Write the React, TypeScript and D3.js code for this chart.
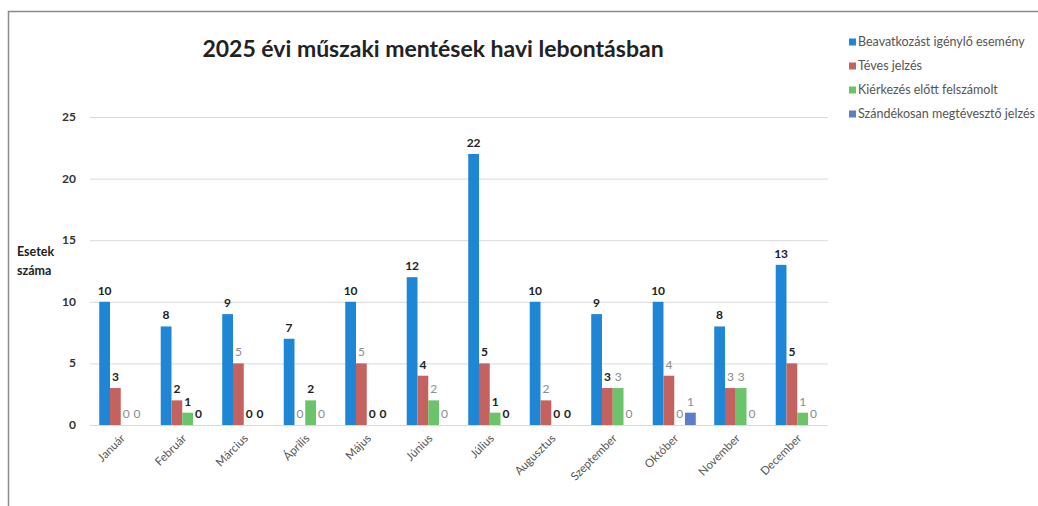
import { useEffect, useRef } from 'react';
import * as d3 from 'd3';

const months = [
  'Január', 'Február', 'Március', 'Április', 'Május', 'Június',
  'Július', 'Augusztus', 'Szeptember', 'Október', 'November', 'December',
];
const seriesNames = [
  'Beavatkozást igénylő esemény',
  'Téves jelzés',
  'Kiérkezés előtt felszámolt',
  'Szándékosan megtévesztő jelzés',
];
const beavatkozas = [10, 8, 9, 7, 10, 12, 22, 10, 9, 10, 8, 13];
const teves = [3, 2, 5, 0, 5, 4, 5, 2, 3, 4, 3, 5];
const kierkezes = [0, 1, 0, 2, 0, 2, 1, 0, 3, 0, 3, 1];
const szandekos = [0, 0, 0, 0, 0, 0, 0, 0, 0, 1, 0, 0];
const yTicks = [0, 5, 10, 15, 20, 25];
// which value labels came out dark in the scan (1) vs faded grey (0)
const darkLabels = [
  [1, 1, 1, 1, 1, 1, 1, 1, 1, 1, 1, 1],
  [1, 1, 0, 0, 0, 1, 1, 0, 1, 0, 0, 1],
  [0, 1, 1, 1, 1, 0, 1, 1, 0, 0, 0, 0],
  [0, 1, 1, 0, 1, 0, 1, 1, 0, 0, 0, 0],
];

const colors = ['#1f86d6', '#c4625f', '#6cc46a', '#5c7ccc'];
const font = 'Lato, "Open Sans", sans-serif';

export default function App() {
  const ref = useRef<SVGSVGElement>(null);

  useEffect(() => {
    if (!ref.current) return;
    const width = 1038;
    const height = 506;
    const svg = d3.select(ref.current);
    svg.selectAll('*').remove();
    const values = [beavatkozas, teves, kierkezes, szandekos];

    // scanned page frame
    svg.append('path')
      .attr('d', `M8.5,${height} V11.5 H${width}`)
      .attr('fill', 'none')
      .attr('stroke', '#8a8a8a')
      .attr('stroke-width', 1.5);

    const x = d3.scaleBand().domain(months).range([90, 828]).paddingInner(0.3).paddingOuter(0.15);
    const xs = d3.scaleBand().domain(seriesNames).range([0, x.bandwidth()]);
    const y = d3.scaleLinear().domain([0, 25]).range([425, 117]);

    const grid = svg.append('g');
    yTicks.forEach((t) => {
      grid.append('line')
        .attr('x1', 90).attr('x2', 828)
        .attr('y1', y(t) + 0.5).attr('y2', y(t) + 0.5)
        .attr('stroke', '#d9d9d9');
      grid.append('text')
        .attr('x', 76).attr('y', y(t) + 4)
        .attr('text-anchor', 'end')
        .attr('font-family', font).attr('font-weight', 700).attr('font-size', 12)
        .attr('fill', '#333')
        .text(t);
    });

    const bars = svg.append('g');
    values.forEach((vals, s) => {
      vals.forEach((v, i) => {
        const bx = (x(months[i]) ?? 0) + (xs(seriesNames[s]) ?? 0);
        if (v > 0) {
          bars.append('rect')
            .attr('x', bx).attr('y', y(v))
            .attr('width', xs.bandwidth()).attr('height', y(0) - y(v))
            .attr('fill', colors[s]);
        }
        const dark = darkLabels[s][i] === 1;
        bars.append('text')
          .attr('x', bx + xs.bandwidth() / 2).attr('y', y(v) - 7)
          .attr('text-anchor', 'middle')
          .attr('font-family', font)
          .attr('font-weight', dark ? 700 : 400)
          .attr('font-size', 12)
          .attr('fill', dark ? '#222' : '#8c8c8c')
          .text(v);
      });
    });

    const xl = svg.append('g');
    months.forEach((m) => {
      const cx = (x(m) ?? 0) + x.bandwidth() / 2 + 5;
      xl.append('text')
        .attr('transform', `translate(${cx},439) rotate(-45)`)
        .attr('text-anchor', 'end')
        .attr('font-family', font).attr('font-size', 11.5)
        .attr('fill', '#555')
        .text(m);
    });

    svg.append('text')
      .attr('x', 433).attr('y', 57)
      .attr('text-anchor', 'middle')
      .attr('font-family', font).attr('font-weight', 700).attr('font-size', 23)
      .attr('fill', '#222')
      .text('2025 évi műszaki mentések havi lebontásban');

    const yl = svg.append('text')
      .attr('font-family', font).attr('font-weight', 700).attr('font-size', 12.5)
      .attr('fill', '#222');
    yl.append('tspan').attr('x', 17).attr('y', 256).text('Esetek');
    yl.append('tspan').attr('x', 17).attr('y', 275).text('száma');

    const lg = svg.append('g');
    seriesNames.forEach((n, i) => {
      const ly = 42 + i * 24;
      lg.append('rect')
        .attr('x', 849).attr('y', ly - 3.5)
        .attr('width', 7).attr('height', 7)
        .attr('fill', colors[i]);
      lg.append('text')
        .attr('x', 858).attr('y', ly + 4)
        .attr('font-family', font).attr('font-size', 12.5)
        .attr('fill', '#555')
        .text(n);
    });
  }, []);

  return (
    <svg
      ref={ref}
      width={1038}
      height={506}
      viewBox="0 0 1038 506"
      style={{ position: 'absolute', left: 0, top: 0, background: '#fff' }}
    />
  );
}
